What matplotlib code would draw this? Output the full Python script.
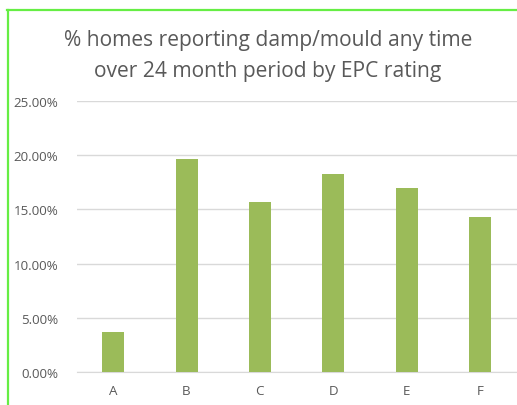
import matplotlib
matplotlib.use("Agg")
import matplotlib.pyplot as plt
from matplotlib.lines import Line2D
from matplotlib.ticker import PercentFormatter, MultipleLocator

categories = ["A", "B", "C", "D", "E", "F"]
values = [3.65, 19.67, 15.72, 18.31, 17.0, 14.27]
title = "% homes reporting damp/mould any time\nover 24 month period by EPC rating"

W, H = 517, 406
fig = plt.figure(figsize=(W / 100, H / 100), dpi=100)
plt.rcParams['font.family'] = ['Open Sans', 'DejaVu Sans']

ax = fig.add_axes([76.5 / W, 1 - 372.7 / H, 440 / W, (372.7 - 102.3) / H])
ax.bar(categories, values, width=0.30, color="#9bbb59", zorder=3)
ax.set_xlim(-0.5, 5.5)
ax.set_ylim(0, 25)
ax.yaxis.set_major_locator(MultipleLocator(5))
ax.yaxis.set_major_formatter(PercentFormatter(decimals=2))
ax.grid(axis="y", color="#d9d9d9", linewidth=1.0, zorder=0)
for s in ["top", "right", "left"]:
    ax.spines[s].set_visible(False)
ax.spines["bottom"].set_color("#d9d9d9")
ax.tick_params(axis="both", length=0, labelsize=9.6, labelcolor="#595959")
ax.tick_params(axis="x", pad=9)
ax.tick_params(axis="y", pad=13)

fig.text(268 / W, 1 - 56 / H, title, ha="center", va="center", fontsize=15.1,
         color="#595959", linespacing=1.62)

# green frame
fig.add_artist(Line2D([8 / W, 8 / W], [0, 1 - 11 / H], color="#66ee44", linewidth=1.6,
                      transform=fig.transFigure))
fig.add_artist(Line2D([7 / W, 1], [1 - 11.3 / H, 1 - 11.3 / H], color="#66ee44", linewidth=1.6,
                      transform=fig.transFigure))

fig.savefig("out.png", dpi=100)
